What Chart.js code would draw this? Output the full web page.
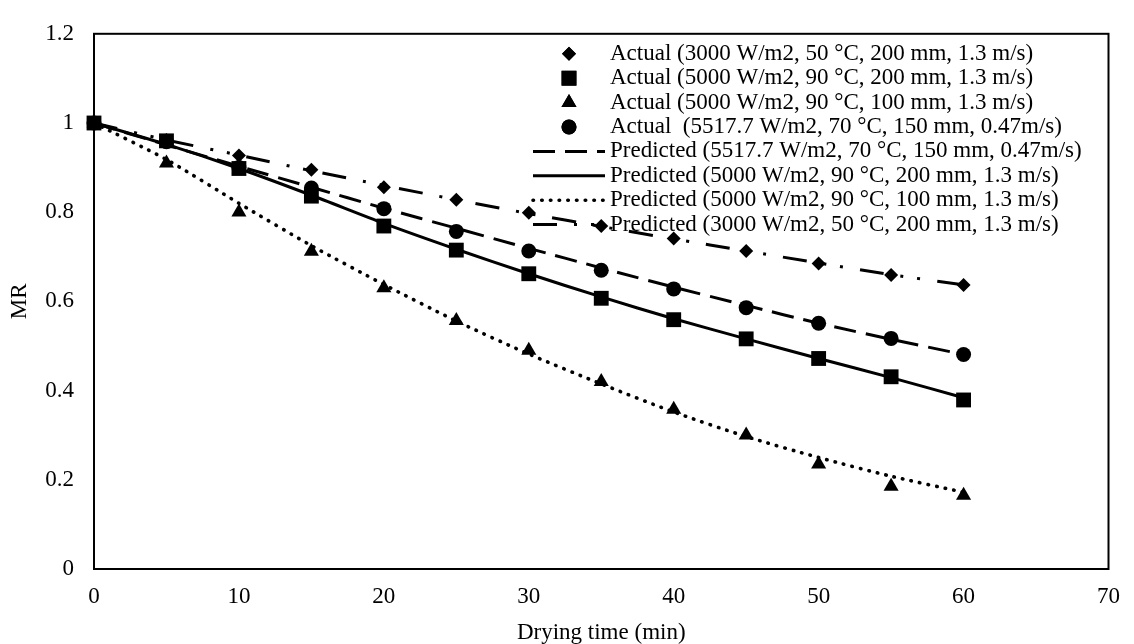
<!DOCTYPE html>
<html>
<head>
<meta charset="utf-8">
<script src="https://cdn.jsdelivr.net/npm/chart.js@4.4.1/dist/chart.umd.min.js"></script>
<style>
    html, body { margin: 0; padding: 0; background: #fff; }
    #contenedor { width: 1134px; height: 644px; }
</style>
</head>
<body>
<div id="contenedor"><canvas id="grafico" width="1134" height="644"></canvas></div>
<script>
// drying time (min)
var tiempo = [0, 5, 10, 15, 20, 25, 30, 35, 40, 45, 50, 55, 60];

// actual MR values
var actual3000_50_200 = [1.0, 0.962, 0.927, 0.895, 0.856, 0.828, 0.799, 0.769, 0.741, 0.713, 0.685, 0.659, 0.637];
var actual5000_90_200 = [1.0, 0.960, 0.898, 0.836, 0.769, 0.715, 0.662, 0.607, 0.559, 0.516, 0.472, 0.431, 0.379];
var actual5000_90_100 = [1.0, 0.910, 0.800, 0.712, 0.630, 0.557, 0.490, 0.420, 0.358, 0.300, 0.235, 0.185, 0.165];
var actual5517_70_150 = [1.0, 0.958, 0.900, 0.854, 0.808, 0.757, 0.713, 0.670, 0.628, 0.586, 0.551, 0.517, 0.481];

// predicted MR values
var pred5517_70_150 = [1.0, 0.951, 0.903, 0.856, 0.809, 0.764, 0.719, 0.675, 0.632, 0.591, 0.551, 0.515, 0.481];
var pred5000_90_200 = [1.0, 0.952, 0.898, 0.838, 0.775, 0.717, 0.662, 0.610, 0.561, 0.516, 0.472, 0.429, 0.384];
var pred5000_90_100 = [1.0, 0.918, 0.820, 0.725, 0.638, 0.556, 0.482, 0.415, 0.352, 0.297, 0.250, 0.208, 0.172];
var pred3000_50_200 = [1.0, 0.962, 0.928, 0.893, 0.860, 0.828, 0.797, 0.768, 0.740, 0.713, 0.686, 0.660, 0.637];

var etiquetas = [
    'Actual (3000 W/m2, 50 °C, 200 mm, 1.3 m/s)',
    'Actual (5000 W/m2, 90 °C, 200 mm, 1.3 m/s)',
    'Actual (5000 W/m2, 90 °C, 100 mm, 1.3 m/s)',
    'Actual  (5517.7 W/m2, 70 °C, 150 mm, 0.47m/s)',
    'Predicted (5517.7 W/m2, 70 °C, 150 mm, 0.47m/s)',
    'Predicted (5000 W/m2, 90 °C, 200 mm, 1.3 m/s)',
    'Predicted (5000 W/m2, 90 °C, 100 mm, 1.3 m/s)',
    'Predicted (3000 W/m2, 50 °C, 200 mm, 1.3 m/s)'
];

var xTicks = [0, 10, 20, 30, 40, 50, 60, 70];
var yTicks = [0, 0.2, 0.4, 0.6, 0.8, 1, 1.2];
var yLabels = ['0', '0.2', '0.4', '0.6', '0.8', '1', '1.2'];

function puntos(serie) {
    return tiempo.map(function (t, i) { return { x: t, y: serie[i] }; });
}

function actual(label, serie, estilo, radio) {
    return {
        label: label, data: puntos(serie), showLine: false,
        pointStyle: estilo, pointRadius: radio, pointHoverRadius: radio,
        backgroundColor: '#000', borderColor: '#000', pointBorderWidth: 0,
        clip: false
    };
}

function predicho(label, serie, dash, ancho, cap) {
    return {
        label: label, data: puntos(serie), showLine: true,
        pointRadius: 0, borderColor: '#000', borderWidth: ancho,
        borderDash: dash, borderCapStyle: cap, tension: 0.25, fill: false,
        clip: false
    };
}

// legend drawn inside the plot, upper right
var leyenda = {
    id: 'leyenda',
    afterDraw: function (chart) {
        var ctx = chart.ctx;
        var a = chart.chartArea;
        var textX = a.left + 516;
        var y0 = a.top + 20;
        var fila = 24.4;
        ctx.save();
        ctx.font = '23px "Liberation Serif"';
        ctx.fillStyle = '#000';
        ctx.textBaseline = 'middle';
        ctx.textAlign = 'left';
        chart.data.datasets.forEach(function (ds, i) {
            var y = y0 + i * fila;
            if (ds.showLine) {
                ctx.save();
                ctx.strokeStyle = '#000';
                ctx.lineWidth = ds.borderWidth;
                ctx.lineCap = ds.borderCapStyle || 'butt';
                ctx.setLineDash(ds.borderDash || []);
                ctx.beginPath();
                ctx.moveTo(textX - 77, y);
                ctx.lineTo(textX - 5, y);
                ctx.stroke();
                ctx.restore();
            } else {
                Chart.helpers.drawPoint(ctx, {
                    pointStyle: ds.pointStyle, radius: ds.pointRadius,
                    borderWidth: 0, rotation: 0
                }, textX - 41, y);
                ctx.fillStyle = '#000';
                ctx.fill();
            }
            ctx.fillText(ds.label, textX, y);
        });
        // box round the plot
        ctx.strokeStyle = '#000';
        ctx.lineWidth = 2;
        ctx.setLineDash([]);
        ctx.strokeRect(a.left, a.top, a.right - a.left, a.bottom - a.top);
        ctx.restore();
    }
};

Chart.defaults.font.family = '"Liberation Serif", "Times New Roman", serif';
Chart.defaults.font.size = 23;
Chart.defaults.color = '#000';

var ctx = document.getElementById('grafico').getContext('2d');
var chart = new Chart(ctx, {
    type: 'scatter',
    data: {
        datasets: [
            actual(etiquetas[0], actual3000_50_200, 'rectRot', 7),
            actual(etiquetas[1], actual5000_90_200, 'rect', 10.5),
            actual(etiquetas[2], actual5000_90_100, 'triangle', 8.7),
            actual(etiquetas[3], actual5517_70_150, 'circle', 7.5),
            predicho(etiquetas[4], pred5517_70_150, [22, 10], 3, 'butt'),
            predicho(etiquetas[5], pred5000_90_200, [], 3, 'butt'),
            predicho(etiquetas[6], pred5000_90_100, [0.5, 8.2], 3.6, 'round'),
            predicho(etiquetas[7], pred3000_50_200, [24, 17, 3, 14, 3, 17], 3, 'butt')
        ]
    },
    options: {
        responsive: false,
        animation: false,
        devicePixelRatio: 1,
        layout: { padding: { top: 20, right: 18, left: 0, bottom: 0 } },
        plugins: {
            legend: { display: false },
            tooltip: { enabled: false }
        },
        scales: {
            x: {
                type: 'linear', min: 0, max: 70,
                afterBuildTicks: function (s) { s.ticks = xTicks.map(function (v) { return { value: v }; }); },
                afterFit: function (s) { s.height = 75; },
                grid: { display: false, drawTicks: false },
                border: { display: true, color: '#000', width: 2 },
                ticks: { padding: 14 },
                title: {
                    display: true, text: 'Drying time (min)',
                    font: { lineHeight: 1 },
                    padding: { top: 0, bottom: 0 }
                }
            },
            y: {
                type: 'linear', min: 0, max: 1.2,
                afterBuildTicks: function (s) { s.ticks = yTicks.map(function (v) { return { value: v }; }); },
                afterFit: function (s) { s.width = 94; },
                grid: { display: false, drawTicks: false },
                border: { display: true, color: '#000', width: 2 },
                ticks: {
                    padding: 20,
                    callback: function (v, i) { return yLabels[i]; }
                },
                title: { display: true, text: 'MR', padding: { top: 6, bottom: 0 } }
            }
        }
    },
    plugins: [leyenda]
});
</script>
</body>
</html>
